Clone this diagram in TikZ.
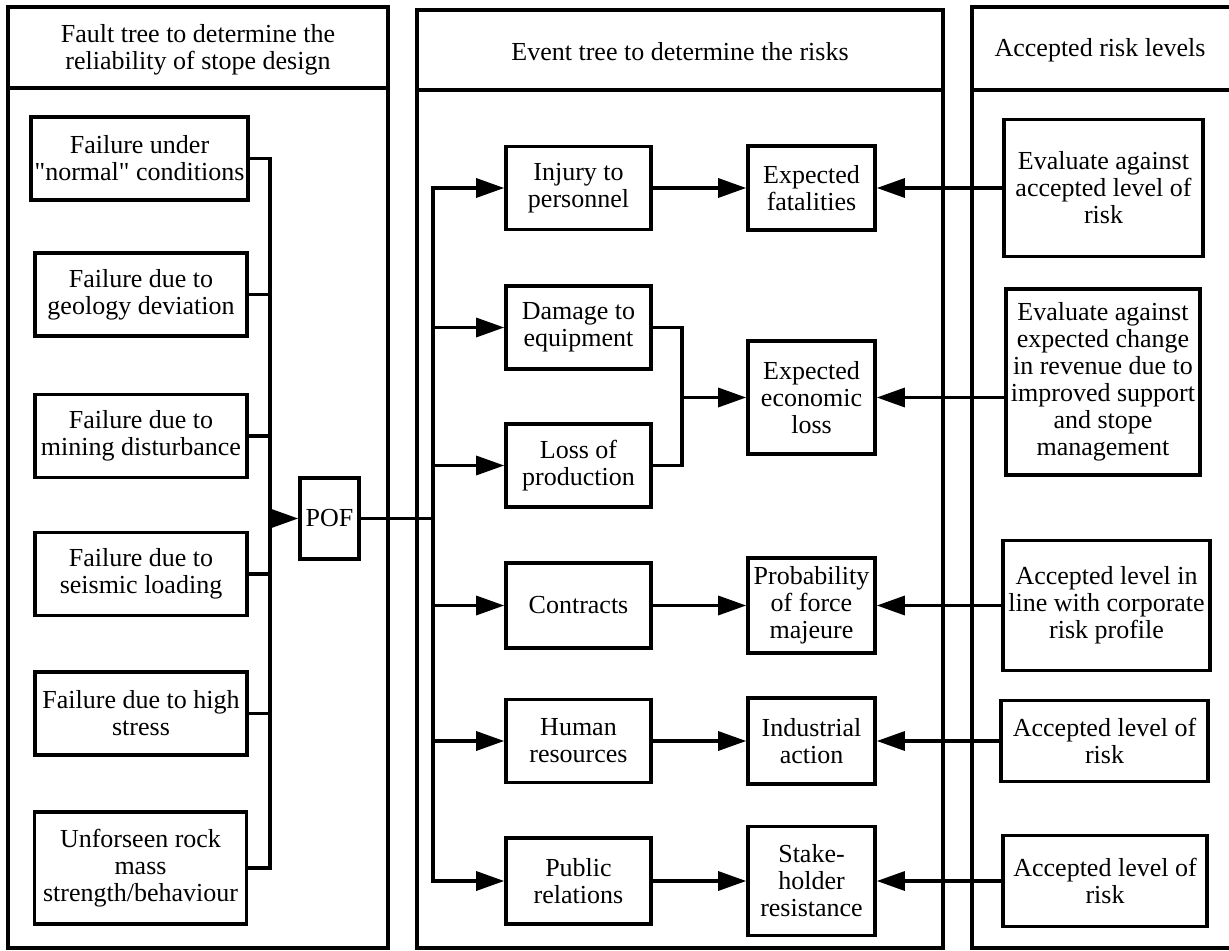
\documentclass[tikz,border=0pt]{standalone}
\usepackage{fontspec}
\setmainfont{Liberation Serif}[Ligatures=TeXOff]
\usetikzlibrary{arrows.meta}

\begin{document}
\begin{tikzpicture}[x=0.5pt,y=-0.5pt]
\begin{scope}

\tikzstyle{panel} = [line width=1.7pt];
\tikzstyle{headnode} = [align=center,font=\fontsize{13pt}{13.5pt}\selectfont];
\tikzstyle{boxnode} = [draw,line width=1.8pt,align=center,inner sep=1pt,font=\fontsize{13pt}{13.5pt}\selectfont];
\tikzstyle{faultnode} = [boxnode,minimum width=106pt,minimum height=41.5pt];
\tikzstyle{eventnode} = [boxnode,minimum width=72.5pt,minimum height=41.5pt];
\tikzstyle{lossnode} = [boxnode,minimum width=63.5pt];
\tikzstyle{levelnode} = [boxnode,minimum width=103pt];
\tikzstyle{link} = [line width=1.6pt,line cap=rect];
\tikzstyle{arrowlink} = [line width=1.6pt,-{Triangle[length=14pt,width=9.5pt]}];

\useasboundingbox (0,0) rectangle (1229,951);

% three frames with their titles
\draw [panel] (8,7) rectangle (388,948);
\draw [panel] (8,88) -- (388,88);
\draw [panel] (417,10) rectangle (943,948);
\draw [panel] (417,90) -- (943,90);
\draw [panel] (1229,7) -- (972,7) -- (972,948) -- (1229,948);
\draw [panel] (972,90) -- (1229,90);

\node [headnode] (h1) at (198,50) {Fault tree to determine the\\reliability of stope design};
\node [headnode] (h2) at (680,52) {Event tree to determine the risks};
\node [headnode] (h3) at (1100,50) {Accepted risk levels};

% fault tree
\node [faultnode,minimum width=108.5pt] (f1) at (139.5,158.5) {Failure under\\"normal" conditions};
\node [faultnode] (f2) at (141,294.5) {Failure due to\\geology deviation};
\node [faultnode] (f3) at (141,436) {Failure due to\\mining disturbance};
\node [faultnode] (f4) at (141,574) {Failure due to\\seismic loading};
\node [faultnode] (f5) at (141,713.5) {Failure due to high\\stress};
\node [faultnode,minimum height=56pt] (f6) at (140.5,868) {Unforseen rock\\mass\\strength/behaviour};

\node [boxnode,minimum width=29.5pt,minimum height=40.5pt] (pof) at (329.5,518.5) {POF};

% event tree
\node [eventnode] (e1) at (578.5,188) {Injury to\\personnel};
\node [eventnode] (e2) at (578.5,327.5) {Damage to\\equipment};
\node [eventnode] (e3) at (578.5,465.5) {Loss of\\production};
\node [eventnode,minimum height=42.5pt] (e4) at (578.5,605.5) {Contracts};
\node [eventnode] (e5) at (578.5,741) {Human\\resources};
\node [eventnode,minimum height=43pt] (e6) at (578.5,881) {Public\\relations};

\node [lossnode,minimum height=42pt] (c1) at (811.5,188) {Expected\\fatalities};
\node [lossnode,minimum height=56.5pt] (c2) at (811.5,397.5) {Expected\\economic\\loss};
\node [lossnode,minimum height=47.5pt] (c3) at (811.5,605.5) {Probability\\of force\\majeure};
\node [lossnode,minimum height=43pt] (c4) at (811.5,741) {Industrial\\action};
\node [lossnode,minimum height=54.5pt] (c5) at (811.5,881) {Stake-\\holder\\resistance};

% accepted levels
\node [levelnode,minimum width=99.5pt,minimum height=68.5pt] (r1) at (1103.5,188) {Evaluate against\\accepted level of\\risk};
\node [levelnode,minimum width=97pt,minimum height=93pt] (r2) at (1103,382) {Evaluate against\\expected change\\in revenue due to\\improved support\\and stope\\management};
\node [levelnode,minimum width=103.5pt,minimum height=65pt] (r3) at (1106.5,605.5) {Accepted level in\\line with corporate\\risk profile};
\node [levelnode,minimum width=103.5pt,minimum height=40.5pt] (r4) at (1104.5,741) {Accepted level of\\risk};
\node [levelnode,minimum width=102pt,minimum height=45.5pt] (r5) at (1105,881) {Accepted level of\\risk};

\coordinate (ftop) at (270,158.5);
\coordinate (fbot) at (270,868);
\coordinate (etop) at (433,188);
\coordinate (ebot) at (433,881);
\coordinate (m1) at (682,327.5);
\coordinate (m2) at (682,465.5);

\draw [link] (f1.east) -- (ftop) -- (fbot) -- (f6.east);
\foreach \n in {f2,f3,f4,f5}
  \draw [link] (\n.east) -- (\n.east -| ftop);
\draw [arrowlink] (ftop |- pof.west) -- (pof.west);

\draw [link] (pof.east) -- (pof.east -| etop);
\draw [link] (etop) -- (ebot);
\foreach \n in {e1,e2,e3,e4,e5,e6}
  \draw [arrowlink] (\n.west -| etop) -- (\n.west);

\draw [arrowlink] (e1.east) -- (c1.west);
\draw [link] (e2.east) -- (m1) -- (m2) -- (e3.east);
\draw [arrowlink] (m1 |- c2.west) -- (c2.west);
\draw [arrowlink] (e4.east) -- (c3.west);
\draw [arrowlink] (e5.east) -- (c4.west);
\draw [arrowlink] (e6.east) -- (c5.west);

\draw [arrowlink] (r1.west) -- (c1.east);
\draw [arrowlink] (r2.west |- c2.east) -- (c2.east);
\draw [arrowlink] (r3.west) -- (c3.east);
\draw [arrowlink] (r4.west) -- (c4.east);
\draw [arrowlink] (r5.west) -- (c5.east);

\end{scope}
\end{tikzpicture}
\end{document}
